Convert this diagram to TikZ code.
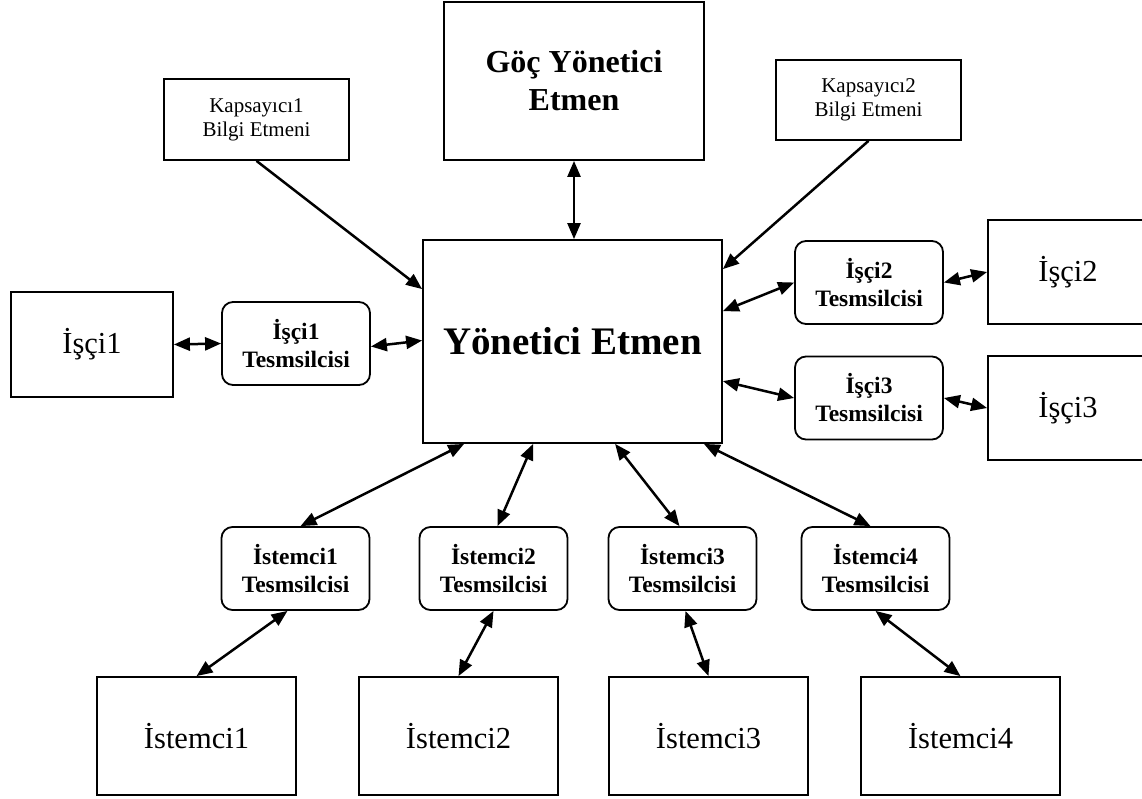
\documentclass[tikz,border=0pt]{standalone}
\usepackage{fontspec}
\setmainfont{Liberation Serif}
\usetikzlibrary{arrows.meta,calc}
\begin{document}
\begin{tikzpicture}[x=1pt,y=-1pt,
  sbox/.style n args={2}{draw,line width=1.8pt,minimum width=#1,minimum height=#2,inner sep=0pt,align=center},
  rbox/.style={draw,line width=1.8pt,rounded corners=11pt,minimum width=148pt,minimum height=83pt,inner sep=0pt,align=center,
    font=\fontsize{23.5pt}{28pt}\selectfont\bfseries},
  kapfont/.style={font=\fontsize{21pt}{24pt}\selectfont},
  bigfont/.style={font=\fontsize{30.5pt}{36pt}\selectfont},
  both/.style={line width=2.5pt,{Triangle[length=16pt,width=13pt]}-{Triangle[length=16pt,width=13pt]}},
  one/.style={line width=2.5pt,-{Triangle[length=16pt,width=13pt]}}
]
\useasboundingbox[fill=white] (0,0) rectangle (1142,798);

% top row
\node[sbox={185pt}{81pt},kapfont] (kap1) at (256.5,119.5) {Kapsayıcı1\\Bilgi Etmeni};
\node[sbox={260pt}{158pt},font=\fontsize{32pt}{38pt}\selectfont\bfseries] (goc) at (574,81) {Göç Yönetici\\Etmen};
\node[sbox={185pt}{80pt},kapfont] (kap2) at (868.5,100) {Kapsayıcı2\\Bilgi Etmeni};

% centre
\node[sbox={299pt}{203pt},font=\fontsize{39pt}{45pt}\selectfont\bfseries] (yon) at (572.5,341.5) {Yönetici Etmen};

% left
\node[sbox={162pt}{105pt},bigfont] (isci1) at (92,344.5) {İşçi1};
\node[rbox] (isci1t) at (296,343.5) {İşçi1\\Tesmsilcisi};

% right
\node[rbox] (isci2t) at (869,282.5) {İşçi2\\Tesmsilcisi};
\node[rbox] (isci3t) at (869,398) {İşçi3\\Tesmsilcisi};
\node[sbox={160pt}{104pt},bigfont] (isci2) at (1068,272) {İşçi2};
\node[sbox={160pt}{104pt},bigfont] (isci3) at (1068,408) {İşçi3};

% bottom representatives
\node[rbox] (ist1t) at (295.5,568.5) {İstemci1\\Tesmsilcisi};
\node[rbox] (ist2t) at (493.5,568.5) {İstemci2\\Tesmsilcisi};
\node[rbox] (ist3t) at (682.5,568.5) {İstemci3\\Tesmsilcisi};
\node[rbox] (ist4t) at (875.5,568.5) {İstemci4\\Tesmsilcisi};

% bottom clients
\node[sbox={199pt}{118pt},bigfont] (ist1) at (196.5,736) {İstemci1};
\node[sbox={199pt}{118pt},bigfont] (ist2) at (458.5,736) {İstemci2};
\node[sbox={199pt}{118pt},bigfont] (ist3) at (708.5,736) {İstemci3};
\node[sbox={199pt}{118pt},bigfont] (ist4) at (960.5,736) {İstemci4};

% connectors
\draw[one] (kap1.south) -- ($(yon.north west)+(0,50)$);
\draw[both] (goc.south) -- (goc.south |- yon.north);
\draw[one] (kap2.south) -- ($(yon.north east)+(0,30)$);

\draw[both] (isci1.east) -- (isci1t.west);
\draw[both] ($(isci1t.east)+(0,3)$) -- ($(yon.west)+(0,-1)$);

\draw[both] ($(yon.north east)+(0,72)$) -- (isci2t.west);
\draw[both] (isci2t.east) -- (isci2.west);
\draw[both] ($(yon.north east)+(0,142)$) -- (isci3t.west);
\draw[both] (isci3t.east) -- (isci3.west);

\draw[both] ($(yon.south west)+(42,0)$) -- ($(ist1t.north)+(5,0)$);
\draw[both] ($(yon.south west)+(111,0)$) -- ($(ist2t.north)+(4,0)$);
\draw[both] ($(yon.south west)+(193,0)$) -- ($(ist3t.north)+(-3,0)$);
\draw[both] ($(yon.south east)+(-19,0)$) -- ($(ist4t.north)+(-5,0)$);

\draw[both] ($(ist1t.south)+(-8,0)$) -- (ist1.north);
\draw[both] (ist2t.south) -- (ist2.north);
\draw[both] ($(ist3t.south)+(3,0)$) -- (ist3.north);
\draw[both] (ist4t.south) -- (ist4.north);
\end{tikzpicture}
\end{document}
